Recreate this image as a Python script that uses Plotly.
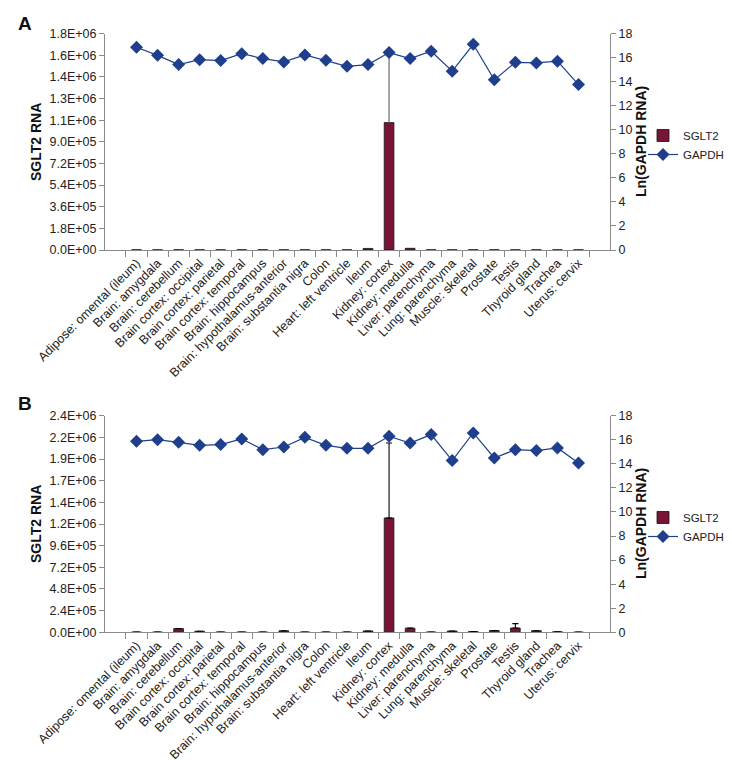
import plotly.graph_objects as go

W, H = 732, 760

tissues = [
    "Adipose: omental (ileum)", "Brain: amygdala", "Brain: cerebellum",
    "Brain cortex: occipital", "Brain cortex: parietal", "Brain cortex: temporal",
    "Brain: hippocampus", "Brain: hypothalamus-anterior", "Brain: substantia nigra",
    "Colon", "Heart: left ventricle", "Ileum", "Kidney: cortex", "Kidney: medulla",
    "Liver: parenchyma", "Lung: parenchyma", "Muscle: skeletal", "Prostate",
    "Testis", "Thyroid gland", "Trachea", "Uterus: cervix",
]

# Panel A
sglt2_a = [1500, 1500, 1500, 1500, 1500, 1500, 1500, 1500, 1500, 1500, 1500, 13000,
           1060000, 14000, 1500, 1500, 1500, 1500, 1500, 1500, 1500, 1500]
sglt2_a_err = [0, 0, 0, 0, 0, 0, 0, 0, 0, 0, 0, 0,
               580000, 0, 0, 0, 0, 0, 0, 0, 0, 0]
gapdh_a = [16.87, 16.2, 15.43, 15.84, 15.76, 16.34, 15.93, 15.65, 16.23, 15.79, 15.29, 15.43,
           16.43, 15.93, 16.54, 14.88, 17.12, 14.16, 15.62, 15.57, 15.71, 13.77]
left_ticks_a = [0, 180000, 360000, 540000, 720000, 900000, 1080000, 1260000, 1440000, 1620000, 1800000]
left_labels_a = ["0.0E+00", "1.8E+05", "3.6E+05", "5.4E+05", "7.2E+05", "9.0E+05",
                 "1.1E+06", "1.3E+06", "1.4E+06", "1.6E+06", "1.8E+06"]

# Panel B
sglt2_b = [3000, 3000, 41000, 12000, 3000, 3000, 3000, 17000, 3000, 3000, 3000, 15000,
           1267000, 46000, 3000, 14000, 8000, 20000, 48000, 18000, 6000, 2000]
sglt2_b_err = [0, 0, 0, 0, 0, 0, 0, 0, 0, 0, 0, 0,
               830000, 0, 0, 0, 0, 0, 48000, 0, 0, 0]
gapdh_b = [15.87, 16.01, 15.79, 15.54, 15.6, 16.07, 15.18, 15.4, 16.2, 15.54, 15.29, 15.29,
           16.29, 15.73, 16.43, 14.27, 16.57, 14.49, 15.18, 15.1, 15.32, 14.07]
left_ticks_b = [0, 240000, 480000, 720000, 960000, 1200000, 1440000, 1680000, 1920000, 2160000, 2400000]
left_labels_b = ["0.0E+00", "2.4E+05", "4.8E+05", "7.2E+05", "9.6E+05", "1.2E+06",
                 "1.4E+06", "1.7E+06", "1.9E+06", "2.2E+06", "2.4E+06"]

right_ticks = list(range(0, 19, 2))

BAR = "#7a1434"
LINE = "#1f3f8c"
TXT = "#222222"
AX = "#8a8a8a"
FONT = "Liberation Sans, Arial, sans-serif"

fig = go.Figure()

# panel A
fig.add_trace(go.Bar(x=tissues, y=sglt2_a, name="SGLT2", xaxis="x", yaxis="y",
                     marker=dict(color=BAR, line=dict(color="#111111", width=0.8)),
                     error_y=dict(type="data", array=sglt2_a_err, symmetric=False,
                                  arrayminus=[0]*len(tissues),
                                  color="#888888", thickness=1.5, width=0),
                     legend="legend"))
fig.add_trace(go.Scatter(x=tissues, y=gapdh_a, name="GAPDH", xaxis="x", yaxis="y3",
                         mode="lines+markers",
                         line=dict(color=LINE, width=1.2),
                         marker=dict(symbol="diamond", size=10, color=LINE),
                         legend="legend"))
# panel B
fig.add_trace(go.Bar(x=tissues, y=sglt2_b, name="SGLT2", xaxis="x2", yaxis="y2",
                     marker=dict(color=BAR, line=dict(color="#111111", width=0.8)),
                     error_y=dict(type="data", array=sglt2_b_err, symmetric=False,
                                  arrayminus=[0]*len(tissues),
                                  color="#000000", thickness=1.1, width=3),
                     legend="legend2"))
fig.add_trace(go.Scatter(x=tissues, y=gapdh_b, name="GAPDH", xaxis="x2", yaxis="y4",
                         mode="lines+markers",
                         line=dict(color=LINE, width=1.2),
                         marker=dict(symbol="diamond", size=10, color=LINE),
                         legend="legend2"))

xd = [97 / W, 602 / W]
ya = [1 - 242 / H, 1 - 25.7 / H]
yb = [1 - 624.3 / H, 1 - 407.7 / H]

tickfont = dict(family=FONT, size=12.5, color=TXT)

def xaxis(anchor):
    return dict(domain=xd, anchor=anchor, type="category", tickson="boundaries",
                ticks="outside", ticklen=6, tickcolor=AX, showline=True, linecolor=AX,
                linewidth=1, tickangle=-45, tickfont=dict(family=FONT, size=12.5, color=TXT),
                showgrid=False, zeroline=False, automargin=False)

def yleft(domain, anchor, ticks, labels):
    return dict(domain=domain, anchor=anchor, range=[0, ticks[-1]], tickvals=ticks,
                ticktext=labels, ticks="outside", ticklen=5, tickcolor=AX,
                showline=True, linecolor=AX, linewidth=1, showgrid=False,
                zeroline=False, tickfont=tickfont, automargin=False)

def yright(overlay, anchor):
    return dict(overlaying=overlay, anchor=anchor, side="right", range=[0, 18],
                tickvals=right_ticks, ticks="outside", ticklen=5, tickcolor=AX,
                showline=True, linecolor=AX, linewidth=1, showgrid=False,
                zeroline=False, tickfont=tickfont, automargin=False)

legend_common = dict(font=dict(family=FONT, size=11.5, color=TXT), bgcolor="rgba(0,0,0,0)",
                     xanchor="left", yanchor="middle", tracegroupgap=2)

fig.update_layout(
    width=W, height=H,
    margin=dict(l=0, r=0, t=0, b=0),
    paper_bgcolor="white", plot_bgcolor="white",
    font=dict(family=FONT, color=TXT),
    bargap=0.54,
    xaxis=xaxis("y"),
    xaxis2=xaxis("y2"),
    yaxis=yleft(ya, "x", left_ticks_a, left_labels_a),
    yaxis2=yleft(yb, "x2", left_ticks_b, left_labels_b),
    yaxis3=yright("y", "x"),
    yaxis4=yright("y2", "x2"),
    legend=dict(x=635 / W, y=1 - 137 / H, **legend_common),
    legend2=dict(x=635 / W, y=1 - 519 / H, **legend_common),
    showlegend=True,
)

annots = [
    dict(text="<b>A</b>", x=17 / W, y=1 - 15 / H),
    dict(text="<b>B</b>", x=17 / W, y=1 - 395 / H),
]
for a in annots:
    a.update(xref="paper", yref="paper", showarrow=False, xanchor="center", yanchor="middle",
             font=dict(family=FONT, size=19, color="#111111"))
titles = [
    dict(text="<b>SGLT2 RNA</b>", x=28 / W, y=1 - 134 / H),
    dict(text="<b>SGLT2 RNA</b>", x=28 / W, y=1 - 516 / H),
    dict(text="<b>Ln(GAPDH RNA)</b>", x=633 / W, y=1 - 134 / H),
    dict(text="<b>Ln(GAPDH RNA)</b>", x=633 / W, y=1 - 516 / H),
]
for t in titles:
    t.update(xref="paper", yref="paper", showarrow=False, textangle=-90,
             xanchor="center", yanchor="middle",
             font=dict(family=FONT, size=14, color="#111111"))
fig.update_layout(annotations=annots + titles)

fig.write_html("out.html")
